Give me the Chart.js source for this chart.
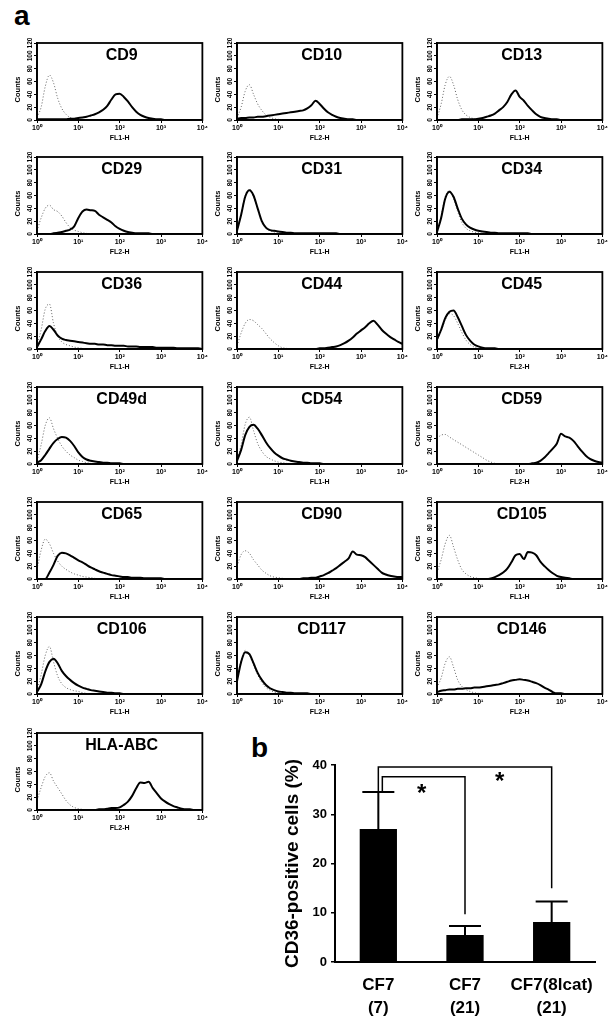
<!DOCTYPE html>
<html>
<head>
<meta charset="utf-8">
<script src="https://cdn.jsdelivr.net/npm/chart.js@4.4.0/dist/chart.umd.min.js"></script>
<style>
  body { margin: 0; background: #fff; width: 610px; height: 1024px; position: relative; overflow: hidden; }
  canvas { position: absolute; }
  .tag { position: absolute; font: bold 28px "Liberation Sans", Arial, sans-serif; line-height: 1; color: #000; }
</style>
</head>
<body>
<div class="tag" style="left:14px;top:2px">a</div>
<div class="tag" style="left:251px;top:734px">b</div>
<script>
// channel positions on the log axis (10 per decade)
const channelX = [1, 1.26, 1.58, 2, 2.51, 3.16, 3.98, 5.01, 6.31, 7.94,
  10, 12.6, 15.8, 20, 25.1, 31.6, 39.8, 50.1, 63.1, 79.4,
  100, 126, 158, 200, 251, 316, 398, 501, 631, 794,
  1000, 1259, 1585, 1995, 2512, 3162, 3981, 5012, 6310, 7943, 10000];
const decadeTicks = [1, 10, 100, 1000, 10000];
const decadeLabels = ['10⁰', '10¹', '10²', '10³', '10⁴'];
const countTicks = [0, 20, 40, 60, 80, 100, 120];

const panelNames = ['CD9', 'CD10', 'CD13', 'CD29', 'CD31', 'CD34', 'CD36', 'CD44', 'CD45',
  'CD49d', 'CD54', 'CD59', 'CD65', 'CD90', 'CD105', 'CD106', 'CD117', 'CD146', 'HLA-ABC'];
const panelChannels = ['FL1-H', 'FL2-H', 'FL1-H', 'FL2-H', 'FL1-H', 'FL1-H', 'FL1-H', 'FL2-H', 'FL2-H',
  'FL1-H', 'FL1-H', 'FL2-H', 'FL1-H', 'FL2-H', 'FL1-H', 'FL1-H', 'FL2-H', 'FL2-H', 'FL2-H'];

// stained cells (solid line)
const stainedCounts = [
  [1,1,1,1,1,1,1,1,2,2, 3,4,5,7,9,12,16,22,32,40, 41,36,29,20,13,8,5,3,2,1, 1,0,0,0,0,0,0,0,0,0,0],
  [2,3,3,4,4,5,5,6,7,8, 9,10,11,12,13,14,15,18,23,30, 25,18,12,8,5,3,2,1,1,0, 0,0,0,0,0,0,0,0,0,0,0],
  [0,0,0,0,0,0,1,1,1,1, 2,3,5,7,10,15,20,28,40,46, 36,30,22,15,9,5,3,2,1,1, 0,0,0,0,0,0,0,0,0,0,0],
  [0,0,0,0,1,2,3,5,7,12, 25,35,38,37,36,30,26,22,18,12, 8,5,3,2,1,1,1,1,0,0, 0,0,0,0,0,0,0,0,0,0,0],
  [5,30,58,68,60,40,20,10,6,5, 4,3,2,2,1,1,1,1,1,1, 1,1,1,1,1,0,0,0,0,0, 0,0,0,0,0,0,0,0,0,0,0],
  [3,25,55,66,58,40,24,15,10,7, 5,4,3,2,2,1,1,1,1,1, 1,1,1,0,0,0,0,0,0,0, 0,0,0,0,0,0,0,0,0,0,0],
  [3,15,28,36,30,21,16,14,13,12, 11,10,9,8,8,7,7,6,6,5, 5,5,4,4,4,3,3,3,3,2, 2,2,2,2,1,1,1,1,1,1,0],
  [0,0,0,0,0,0,0,0,0,0, 0,0,0,0,0,0,0,0,0,0, 1,1,2,3,4,6,9,13,18,24, 29,34,40,44,38,30,24,19,15,11,8],
  [15,30,48,58,60,50,36,22,13,7, 4,2,1,1,1,0,0,0,0,0, 0,0,0,0,0,0,0,0,0,0, 0,0,0,0,0,0,0,0,0,0,0],
  [2,6,14,24,33,39,42,41,36,28, 18,11,7,5,4,3,2,2,1,1, 1,0,0,0,0,0,0,0,0,0, 0,0,0,0,0,0,0,0,0,0,0],
  [5,22,45,58,61,55,45,34,25,18, 13,9,7,5,4,3,2,2,1,1, 1,0,0,0,0,0,0,0,0,0, 0,0,0,0,0,0,0,0,0,0,0],
  [0,0,0,0,0,0,0,0,0,0, 0,0,0,0,0,0,0,0,0,0, 0,0,0,1,2,5,10,17,24,32, 47,43,41,36,28,20,13,8,5,3,2],
  [0,0,0,10,22,36,41,40,37,33, 29,26,22,18,15,12,10,8,6,5, 4,3,3,2,2,2,1,1,1,1, 1,0,0,0,0,0,0,0,0,0,0],
  [0,0,0,0,0,0,0,0,0,0, 0,0,0,0,0,0,1,1,2,2, 4,6,9,13,17,22,27,32,43,38, 37,34,28,22,16,10,7,5,4,3,3],
  [0,0,0,0,0,0,0,0,0,0, 0,0,0,1,3,6,10,16,26,37, 39,31,42,41,37,27,20,14,9,5, 3,2,1,0,0,0,0,0,0,0,0],
  [3,15,35,50,55,48,36,28,22,17, 13,10,8,6,5,4,3,2,2,1, 1,0,0,0,0,0,0,0,0,0, 0,0,0,0,0,0,0,0,0,0,0],
  [20,50,65,62,48,33,22,14,9,6, 4,3,2,2,1,1,1,1,0,0, 0,0,0,0,0,0,0,0,0,0, 0,0,0,0,0,0,0,0,0,0,0],
  [3,5,6,7,7,8,8,9,9,10, 10,11,12,13,14,15,17,19,21,22, 23,22,21,19,17,14,10,7,3,1, 1,0,0,0,0,0,0,0,0,0,0],
  [0,0,0,0,0,0,0,0,0,0, 0,0,0,0,0,1,1,2,3,3, 4,8,13,22,34,43,42,44,34,26, 18,13,9,6,4,2,1,1,0,0,0]
];

// isotype control (dotted line), only the low channels
const controlCounts = [
  [4,20,52,70,58,34,18,9,4,2,1,0],
  [3,20,45,55,40,25,15,8,4,2,1,0],
  [3,25,55,68,55,32,16,8,4,2,1,0],
  [5,25,40,45,38,35,28,18,10,6,4,2,1,0],
  [5,32,60,70,58,38,18,9,5,3,2,1,0],
  [3,28,58,68,55,35,18,9,5,3,2,1,0],
  [5,30,62,70,40,20,11,7,5,3,2,1,0],
  [5,25,40,46,44,38,32,24,16,10,5,2,1,0],
  [12,28,45,55,52,40,26,14,7,3,1,0],
  [5,30,60,72,55,40,28,20,14,10,6,4,2,1,0],
  [5,30,62,73,52,32,20,12,8,5,3,2,1,0],
  [40,45,46,42,38,34,30,26,22,18,14,10,6,3,1,0],
  [15,45,62,55,40,28,20,15,11,8,6,4,3,2,1,0],
  [20,38,44,40,30,22,14,9,5,3,2,1,0],
  [10,30,55,68,50,30,15,8,4,2,1,0],
  [5,30,60,74,50,28,16,10,7,5,4,2,1,0],
  [22,52,68,60,45,30,18,10,6,3,2,1,0],
  [10,25,48,58,42,22,12,7,4,2,1,0],
  [15,35,52,58,45,35,25,15,8,4,2,1,0]
];

// panel b
const groupLabels = [['CF7', '(7)'], ['CF7', '(21)'], ['CF7(8lcat)', '(21)']];
const cd36Mean = [27, 5.5, 8.1];
const cd36Sd = [7.5, 1.8, 4.2];
const sigPairs = [[0, 1], [0, 2]];
const sigTop = [37.6, 39.6];
const sigEnd = [9.7, 15];
const starSpots = [[0.5, 35.3], [1.4, 37.8]];

Chart.defaults.font.family = '"Liberation Sans", Arial, Helvetica, sans-serif';
Chart.defaults.color = '#000';

const FONT = '"Liberation Sans", Arial, sans-serif';
const colLefts = [37, 237, 437];
const rowTops = [43, 157, 272, 387, 502, 617, 733];

function toPoints(counts) {
  return counts.map((c, i) => ({ x: channelX[i], y: c }));
}

const frame = {
  id: 'frame',
  afterDraw(chart, args, opts) {
    const { ctx, chartArea: a, scales: { y } } = chart;
    ctx.save();
    ctx.strokeStyle = '#000';
    ctx.lineWidth = 1.8;
    ctx.strokeRect(a.left, a.top, a.right - a.left, a.bottom - a.top);
    ctx.fillStyle = '#000';
    ctx.textAlign = 'center';
    ctx.textBaseline = 'middle';
    ctx.font = 'bold 6.5px ' + FONT;
    countTicks.forEach(v => {
      ctx.save();
      ctx.translate(a.left - 7, y.getPixelForValue(v));
      ctx.rotate(-Math.PI / 2);
      ctx.fillText(String(v), 0, 0);
      ctx.restore();
    });
    ctx.save();
    ctx.translate(a.left - 19, (a.top + a.bottom) / 2 + 8);
    ctx.rotate(-Math.PI / 2);
    ctx.font = 'bold 7.5px ' + FONT;
    ctx.fillText('Counts', 0, 0);
    ctx.restore();
    ctx.font = 'bold 16px ' + FONT;
    ctx.textBaseline = 'alphabetic';
    ctx.fillText(opts.title, (a.left + a.right) / 2 + 2, a.top + 17);
    ctx.restore();
  }
};

panelNames.forEach((name, k) => {
  const cv = document.createElement('canvas');
  cv.width = 208;
  cv.height = 105;
  cv.style.left = (colLefts[k % 3] - 36) + 'px';
  cv.style.top = (rowTops[Math.floor(k / 3)] - 6) + 'px';
  document.body.appendChild(cv);

  new Chart(cv, {
    type: 'line',
    data: {
      datasets: [
        { data: toPoints(stainedCounts[k]), borderColor: '#000', borderWidth: 2,
          pointRadius: 0, cubicInterpolationMode: 'monotone', fill: false },
        { data: toPoints(controlCounts[k]), borderColor: '#666', borderWidth: 1,
          borderDash: [1, 2], pointRadius: 0, cubicInterpolationMode: 'monotone', fill: false }
      ]
    },
    options: {
      responsive: false,
      animation: false,
      events: [],
      layout: { padding: { top: 6, right: 6, left: 0, bottom: 0 } },
      scales: {
        x: {
          type: 'logarithmic',
          min: 1,
          max: 10000,
          afterBuildTicks: s => { s.ticks = decadeTicks.map(v => ({ value: v })); },
          afterFit: s => { s.height = 22; },
          ticks: {
            autoSkip: false, maxRotation: 0, padding: 1,
            font: { size: 7, weight: 'bold' },
            callback: v => decadeLabels[decadeTicks.indexOf(v)]
          },
          grid: { drawOnChartArea: false, color: '#000', tickLength: 3 },
          border: { color: '#000', width: 1.8 },
          title: { display: true, text: panelChannels[k], padding: 0, font: { size: 7, weight: 'bold' } }
        },
        y: {
          min: 0,
          max: 120,
          afterBuildTicks: s => { s.ticks = countTicks.map(v => ({ value: v })); },
          afterFit: s => { s.width = 36; },
          ticks: { display: false },
          grid: { drawOnChartArea: false, color: '#000', tickLength: 3 },
          border: { color: '#000', width: 1.8 }
        }
      },
      plugins: {
        legend: { display: false },
        tooltip: { enabled: false },
        frame: { title: name }
      }
    },
    plugins: [frame]
  });
});

const errorMarks = {
  id: 'errorMarks',
  afterDatasetsDraw(chart) {
    const { ctx, scales: { x, y } } = chart;
    ctx.save();
    ctx.strokeStyle = '#000';
    ctx.lineWidth = 2;
    cd36Mean.forEach((m, i) => {
      const cx = x.getPixelForValue(i);
      const y0 = y.getPixelForValue(m);
      const y1 = y.getPixelForValue(m + cd36Sd[i]);
      ctx.beginPath();
      ctx.moveTo(cx, y0);
      ctx.lineTo(cx, y1);
      ctx.moveTo(cx - 16, y1);
      ctx.lineTo(cx + 16, y1);
      ctx.stroke();
    });
    ctx.lineWidth = 1.5;
    sigPairs.forEach(([a, b], k) => {
      const xa = x.getPixelForValue(a) + (k === 0 ? 4 : 0);
      const xb = x.getPixelForValue(b);
      const yStart = y.getPixelForValue(cd36Mean[a] + cd36Sd[a]);
      const yTop = y.getPixelForValue(sigTop[k]);
      const yEnd = y.getPixelForValue(sigEnd[k]);
      ctx.beginPath();
      ctx.moveTo(xa, yStart);
      ctx.lineTo(xa, yTop);
      ctx.lineTo(xb, yTop);
      ctx.lineTo(xb, yEnd);
      ctx.stroke();
    });
    ctx.fillStyle = '#000';
    ctx.font = 'bold 24px ' + FONT;
    ctx.textAlign = 'center';
    ctx.textBaseline = 'alphabetic';
    starSpots.forEach(([i, v]) => {
      ctx.fillText('*', x.getPixelForValue(i), y.getPixelForValue(v) + 13);
    });
    ctx.restore();
  }
};

const bc = document.createElement('canvas');
bc.width = 370;
bc.height = 289;
bc.style.left = '240px';
bc.style.top = '735px';
document.body.appendChild(bc);

new Chart(bc, {
  type: 'bar',
  data: {
    labels: groupLabels,
    datasets: [{ data: cd36Mean, backgroundColor: '#000', barPercentage: 0.43, categoryPercentage: 1 }]
  },
  options: {
    responsive: false,
    animation: false,
    events: [],
    layout: { padding: { top: 30, right: 15, left: 37, bottom: 0 } },
    scales: {
      x: {
        grid: { display: false, drawTicks: false },
        border: { color: '#000', width: 2 },
        ticks: { padding: 12, autoSkip: false, minRotation: 0, maxRotation: 0,
          font: { size: 17, weight: 'bold', lineHeight: 1.35 } },
        afterFit: s => { s.height = 62; }
      },
      y: {
        min: 0,
        max: 40,
        ticks: { stepSize: 10, padding: 4, font: { size: 13, weight: 'bold' } },
        grid: { drawOnChartArea: false, color: '#000', tickLength: 4, lineWidth: 1.5 },
        border: { color: '#000', width: 2 },
        title: { display: true, text: 'CD36-positive cells (%)', font: { size: 19, weight: 'bold' } },
        afterFit: s => { s.width = 58; }
      }
    },
    plugins: { legend: { display: false }, tooltip: { enabled: false } }
  },
  plugins: [errorMarks]
});
</script>
</body>
</html>
